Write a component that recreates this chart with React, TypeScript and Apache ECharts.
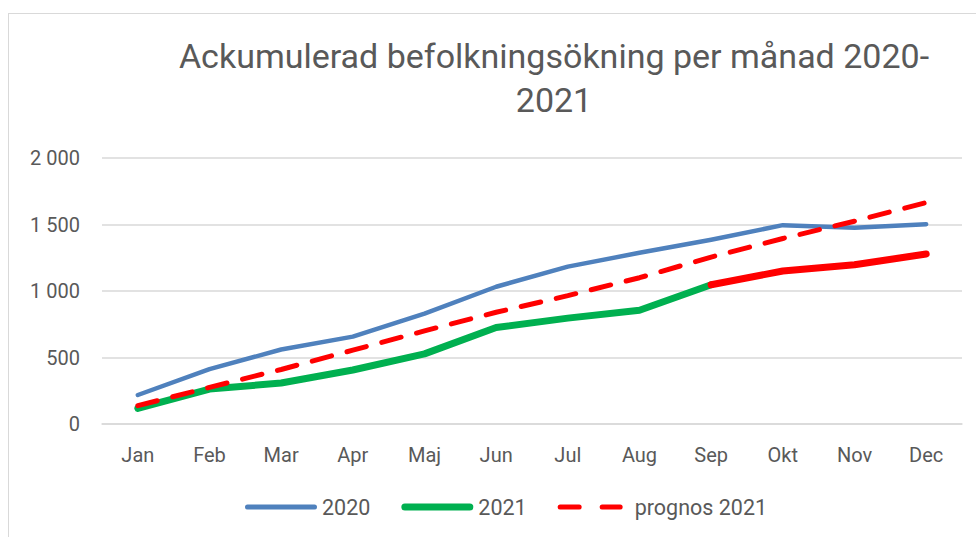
import React, { useEffect, useRef } from "react";
import * as echarts from "echarts";

const months = ["Jan", "Feb", "Mar", "Apr", "Maj", "Jun", "Jul", "Aug", "Sep", "Okt", "Nov", "Dec"];
const values2020 = [218, 412, 560, 657, 830, 1032, 1183, 1287, 1385, 1495, 1475, 1502];
const values2021 = [118, 263, 308, 406, 527, 725, 796, 855, 1047, null, null, null];
const values2021Late = [null, null, null, null, null, null, null, null, 1047, 1150, 1198, 1278];
const prognos2021 = [138, 275, 410, 555, 700, 840, 965, 1100, 1255, 1395, 1525, 1665];
const yTicks = [0, 500, 1000, 1500, 2000];

const FONT = "Roboto, 'Open Sans', sans-serif";
const TEXT = "#595959";

export default function App() {
  const ref = useRef<HTMLDivElement>(null);
  useEffect(() => {
    if (!ref.current) return;
    const chart = echarts.init(ref.current, null, { renderer: "svg" });
    chart.setOption({
      animation: false,
      backgroundColor: "#ffffff",
      title: {
        text: "Ackumulerad befolkningsökning per månad 2020-\n2021",
        left: 549,
        top: 29,
        textAlign: "center",
        textStyle: {
          fontFamily: FONT,
          fontSize: 34,
          fontWeight: "normal",
          color: TEXT,
          lineHeight: 44,
        },
      },
      graphic: [
        { type: "line", shape: { x1: 8.5, y1: 13, x2: 8.5, y2: 537 }, style: { stroke: "#D9D9D9", lineWidth: 1 } },
        { type: "line", shape: { x1: 8, y1: 13.5, x2: 976, y2: 13.5 }, style: { stroke: "#D9D9D9", lineWidth: 1 } },
      ],
      legend: {
        data: [
          { name: "2020", icon: "path://M2.5,1 H69.5 A2.5,2.5 0 0 1 69.5,6 H2.5 A2.5,2.5 0 0 1 2.5,1 Z M0,0 H0.01 V7 H0 Z" },
          { name: "2021", icon: "path://M3.5,0 H68.5 A3.5,3.5 0 0 1 68.5,7 H3.5 A3.5,3.5 0 0 1 3.5,0 Z" },
          {
            name: "prognos 2021",
            icon: "path://M2.5,1 H21.5 A2.5,2.5 0 0 1 21.5,6 H2.5 A2.5,2.5 0 0 1 2.5,1 Z M44.5,1 H62.5 A2.5,2.5 0 0 1 62.5,6 H44.5 A2.5,2.5 0 0 1 44.5,1 Z M0,0 H0.01 V7 H0 Z M71.99,0 H72 V0.01 H71.99 Z",
          },
        ],
        bottom: 14,
        left: 240,
        itemWidth: 72,
        itemHeight: 7,
        itemGap: 31,
        textStyle: { fontFamily: FONT, fontSize: 21.5, color: TEXT, padding: [0, 0, 0, 0] },
      },
      grid: { left: 102, right: 14, top: 158, bottom: 113 },
      xAxis: {
        type: "category",
        data: months,
        boundaryGap: true,
        axisLine: { show: true, lineStyle: { color: "#D9D9D9", width: 1.5 } },
        axisTick: { show: false },
        axisLabel: { fontFamily: FONT, fontSize: 20, color: TEXT, margin: 21 },
      },
      yAxis: {
        type: "value",
        min: yTicks[0],
        max: yTicks[yTicks.length - 1],
        interval: 500,
        axisLine: { show: false },
        axisTick: { show: false },
        splitLine: { lineStyle: { color: "#D9D9D9", width: 1.5 } },
        axisLabel: {
          fontFamily: FONT,
          fontSize: 20,
          color: TEXT,
          margin: 22,
          formatter: (v: number) => String(v).replace(/\B(?=(\d{3})+(?!\d))/g, " "),
        },
      },
      series: [
        {
          name: "2020",
          type: "line",
          data: values2020,
          symbol: "none",
          lineStyle: { color: "#4F81BD", width: 4.5, cap: "round", join: "round" },
          itemStyle: { color: "#4F81BD" },
          z: 3,
        },
        {
          name: "2021",
          type: "line",
          data: values2021,
          symbol: "none",
          connectNulls: false,
          lineStyle: { color: "#00B050", width: 7, cap: "round", join: "round" },
          itemStyle: { color: "#00B050" },
          z: 2,
        },
        {
          name: "2021 rest",
          type: "line",
          data: values2021Late,
          symbol: "none",
          lineStyle: { color: "#FF0000", width: 7, cap: "round", join: "round" },
          itemStyle: { color: "#FF0000" },
          z: 2,
        },
        {
          name: "prognos 2021",
          type: "line",
          data: prognos2021,
          symbol: "none",
          lineStyle: { color: "#FF0000", width: 5, type: [20, 16], cap: "round" },
          itemStyle: { color: "#FF0000" },
          z: 4,
        },
      ],
    });
    return () => chart.dispose();
  }, []);
  return (
    <div
      ref={ref}
      style={{ position: "fixed", left: 0, top: 0, width: 976, height: 537 }}
    />
  );
}
